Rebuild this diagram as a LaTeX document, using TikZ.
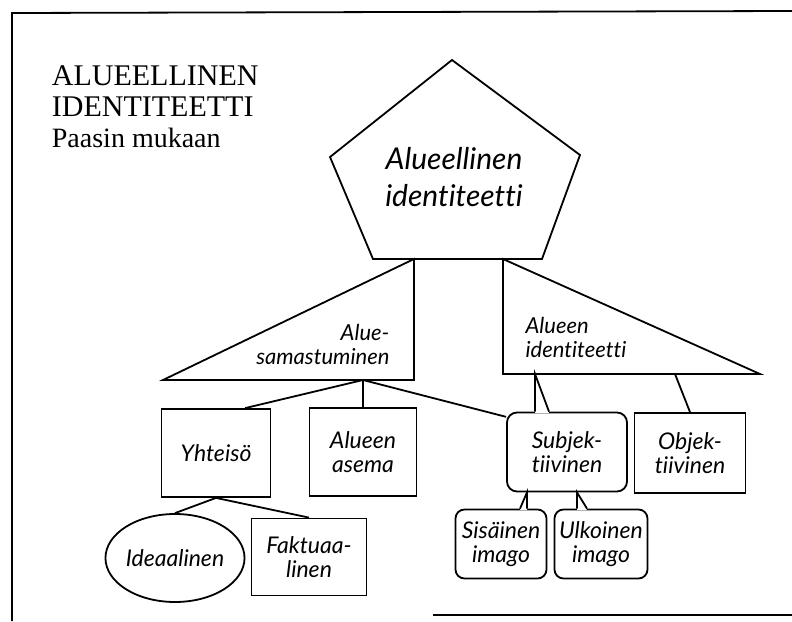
\documentclass[tikz,border=0pt]{standalone}
\usepackage{fontspec}
\setmainfont{Liberation Serif}
\newfontfamily\lblfont{Lato}[Ligatures={NoCommon,NoRequired,NoContextual}]
\usetikzlibrary{shapes.geometric,calc}

\tikzset{
  lbl/.style={font=\lblfont\itshape\fontsize{11}{12}\selectfont},
  box/.style={draw, font=\lblfont\itshape\fontsize{11.5}{12}\selectfont, inner sep=2pt, align=center},
  rbox/.style={box, rounded corners=5pt},
}
% pointer of a speech-bubble box: #1 node, #2/#3 offsets on its top edge, #4 tip
\newcommand{\bubbletip}[4]{%
  \fill[white] ($(#1.north)+(#2,1.6)$) -- (#4) -- ($(#1.north)+(#3,1.6)$) -- cycle;
  \draw ($(#1.north)+(#2,0)$) -- (#4) -- ($(#1.north)+(#3,0)$);}

\begin{document}
\begin{tikzpicture}[x=0.5pt, y=-0.5pt, line width=0.9pt]
  \useasboundingbox (0,0) rectangle (792,621);
  % frame
  \draw (12,621) -- (12,13) -- (792,11);
  \draw (433,615) -- (792,615);
  % title
  \node[anchor=base west, inner sep=0, font=\fontsize{15}{16}\selectfont] (t1) at (51,85) {ALUEELLINEN};
  \node[anchor=base west, inner sep=0, font=\fontsize{15}{16}\selectfont] (t2) at (51,116) {IDENTITEETTI};
  \node[anchor=base west, inner sep=0, font=\fontsize{14}{15}\selectfont] (t3) at (51,147) {Paasin mukaan};

  % pentagon
  \coordinate (p1) at (452,60);
  \coordinate (p2) at (580,155);
  \coordinate (p3) at (542,259);
  \coordinate (p4) at (373,259);
  \coordinate (p5) at (330,157);
  \draw (p1) -- (p2) -- (p3) -- (p4) -- (p5) -- cycle;
  \node[align=center, font=\lblfont\itshape\fontsize{15}{18.5}\selectfont] (pent) at (454,177) {Alueellinen\\identiteetti};

  % the two triangles
  \coordinate (lt1) at (414,259);
  \coordinate (lt2) at (163,380);
  \coordinate (lt3) at (414,380);
  \draw (lt1) -- (lt2) -- (lt3) -- cycle;
  \node[lbl, align=right, anchor=east] (ltt) at (397,344) {Alue-\\samastuminen};
  \coordinate (rt1) at (503,259);
  \coordinate (rt2) at (503,374);
  \coordinate (rt3) at (760,374);
  \draw (rt1) -- (rt2) -- (rt3) -- cycle;
  \node[lbl, align=left, anchor=west] (rtt) at (518,337) {Alueen\\identiteetti};

  \coordinate (ls) at (363,380);
  \coordinate (rs1) at (535,374);
  \coordinate (rs2) at (675,374);

  % boxes
  \node[box, minimum width=54.5pt, minimum height=44pt] (yht) at (216,453) {Yhteisö};
  \node[box, minimum width=53.5pt, minimum height=44pt] (ase) at (363,452) {Alueen\\asema};
  \node[rbox, minimum width=60pt, minimum height=39.5pt] (subj) at (567,452) {Subjek-\\tiivinen};
  \node[box, minimum width=55.5pt, minimum height=40pt] (obj) at (690,453) {Objek-\\tiivinen};
  \node[rbox, rounded corners=4.5pt, minimum width=45.5pt, minimum height=34.5pt] (sis) at (501,544) {Sisäinen\\imago};
  \node[rbox, rounded corners=4.5pt, minimum width=46.5pt, minimum height=34.5pt] (ulk) at (601,544) {Ulkoinen\\imago};
  \node[box, ellipse, inner sep=0, minimum width=65pt, minimum height=44pt] (ide) at (175,558) {Ideaalinen};
  \node[box, minimum width=57.5pt, minimum height=38.5pt] (fak) at (309,557) {Faktuaa-\\linen};

  % connectors
  \draw (ls) -- (yht.57);
  \draw (ls) -- (ase.north);
  \draw (ls) -- (subj.150);
  \draw (rs2) -- (obj.north);
  \draw (yht.south) -- (ide.north);
  \draw (yht.south) -- (fak.north);
  \bubbletip{subj}{-32}{-18}{rs1}
  \bubbletip{sis}{19}{26}{$(subj.south)+(-40,0)$}
  \bubbletip{ulk}{-24}{-14}{$(subj.south)+(10,0)$}
\end{tikzpicture}
\end{document}
